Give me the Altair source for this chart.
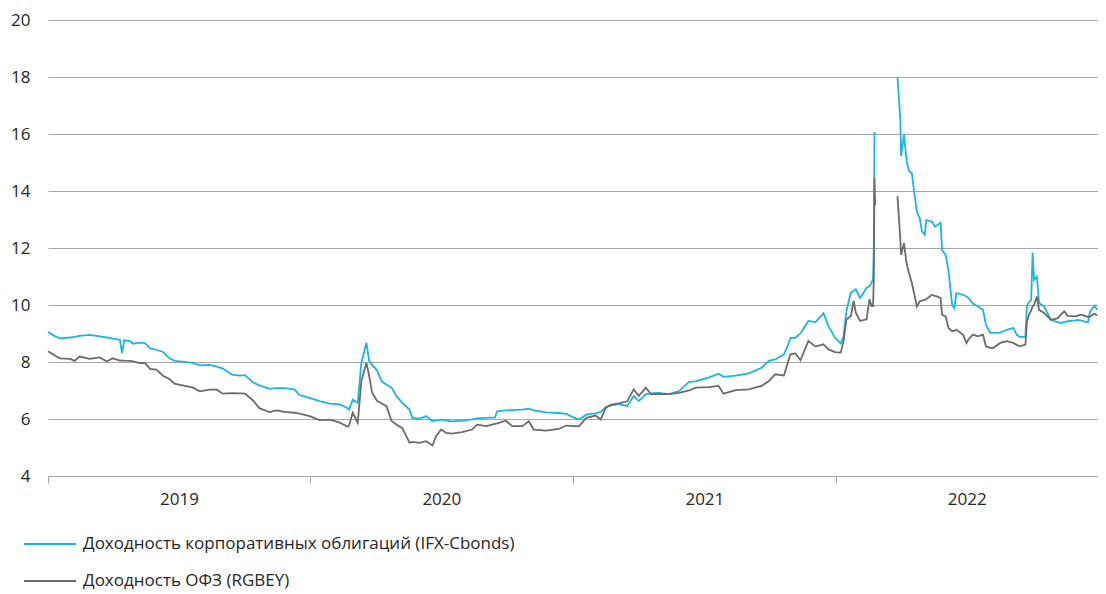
import altair as alt
import pandas as pd

# ---- data ----
dates = [
    "2019-01-01", "2019-01-11", "2019-01-18", "2019-02-01", "2019-02-07", "2019-02-14", "2019-02-28",
    "2019-03-14", "2019-03-24", "2019-04-01", "2019-04-11", "2019-04-14", "2019-04-17", "2019-04-25",
    "2019-04-29", "2019-05-09", "2019-05-16", "2019-05-23", "2019-06-01", "2019-06-10", "2019-06-19",
    "2019-06-26", "2019-07-07", "2019-07-21", "2019-07-31", "2019-08-14", "2019-08-24", "2019-09-01",
    "2019-09-14", "2019-09-25", "2019-10-02", "2019-10-13", "2019-10-22", "2019-11-05", "2019-11-15",
    "2019-11-26", "2019-12-10", "2019-12-17", "2019-12-31", "2020-01-14", "2020-01-28", "2020-02-11",
    "2020-02-22", "2020-02-24", "2020-02-29", "2020-03-07", "2020-03-12", "2020-03-19", "2020-03-23",
    "2020-03-27", "2020-04-03", "2020-04-09", "2020-04-16", "2020-04-23", "2020-04-30", "2020-05-08",
    "2020-05-18", "2020-05-22", "2020-06-01", "2020-06-10", "2020-06-19", "2020-06-24", "2020-07-01",
    "2020-07-08", "2020-07-16", "2020-07-30", "2020-08-13", "2020-08-20", "2020-09-02", "2020-09-14",
    "2020-09-17", "2020-09-29", "2020-10-08", "2020-10-22", "2020-10-31", "2020-11-07", "2020-11-24",
    "2020-12-12", "2020-12-22", "2021-01-02", "2021-01-09", "2021-01-19", "2021-02-01", "2021-02-08",
    "2021-02-15", "2021-02-22", "2021-03-05", "2021-03-17", "2021-03-26", "2021-04-02", "2021-04-12",
    "2021-04-19", "2021-04-30", "2021-05-14", "2021-05-28", "2021-06-11", "2021-06-20", "2021-07-08",
    "2021-07-22", "2021-07-29", "2021-08-15", "2021-09-02", "2021-09-20", "2021-09-30", "2021-10-09",
    "2021-10-21", "2021-10-27", "2021-10-30", "2021-11-06", "2021-11-13", "2021-11-24", "2021-12-04",
    "2021-12-15", "2021-12-22", "2021-12-31", "2022-01-08", "2022-01-12", "2022-01-16", "2022-01-22",
    "2022-01-26", "2022-01-29", "2022-02-04", "2022-02-13", "2022-02-17", "2022-02-20", "2022-02-22",
    "2022-02-23", "2022-02-24", "2022-02-25",
    "2022-03-28", "2022-04-01", "2022-04-02", "2022-04-06", "2022-04-10", "2022-04-13", "2022-04-17",
    "2022-04-20", "2022-04-24", "2022-04-28", "2022-05-01", "2022-05-05", "2022-05-07", "2022-05-15",
    "2022-05-19", "2022-05-22", "2022-05-27", "2022-05-29", "2022-06-03", "2022-06-07", "2022-06-12",
    "2022-06-15", "2022-06-18", "2022-06-27", "2022-07-02", "2022-07-05", "2022-07-11", "2022-07-18",
    "2022-07-25", "2022-07-29", "2022-08-04", "2022-08-08", "2022-08-18", "2022-08-27", "2022-09-05",
    "2022-09-10", "2022-09-14", "2022-09-22", "2022-09-24", "2022-09-27", "2022-09-30", "2022-10-02",
    "2022-10-04", "2022-10-08", "2022-10-11", "2022-10-18", "2022-10-25", "2022-10-27", "2022-11-01",
    "2022-11-06", "2022-11-10", "2022-11-15", "2022-11-20", "2022-11-30", "2022-12-04", "2022-12-09",
    "2022-12-18", "2022-12-21", "2022-12-27", "2022-12-31",
]

corp = [
    9.05, 8.90, 8.83, 8.86, 8.88, 8.92, 8.95,
    8.90, 8.86, 8.82, 8.78, 8.31, 8.76, 8.73,
    8.64, 8.68, 8.66, 8.48, 8.43, 8.35, 8.13,
    8.04, 8.01, 7.97, 7.88, 7.90, 7.84, 7.78,
    7.56, 7.52, 7.54, 7.29, 7.18, 7.06, 7.08,
    7.08, 7.04, 6.84, 6.74, 6.63, 6.54, 6.51,
    6.38, 6.33, 6.68, 6.57, 7.97, 8.67, 8.03,
    7.90, 7.70, 7.33, 7.20, 7.10, 6.80, 6.57,
    6.33, 6.04, 6.01, 6.10, 5.92, 5.95, 5.98,
    5.95, 5.92, 5.94, 5.99, 6.02, 6.04, 6.06,
    6.27, 6.30, 6.31, 6.33, 6.36, 6.30, 6.23,
    6.21, 6.18, 6.05, 5.98, 6.15, 6.20, 6.25,
    6.42, 6.47, 6.52, 6.46, 6.81, 6.63, 6.87,
    6.90, 6.92, 6.87, 6.98, 7.30, 7.32, 7.45,
    7.59, 7.48, 7.52, 7.60, 7.80, 8.04, 8.09,
    8.27, 8.62, 8.85, 8.85, 9.00, 9.44, 9.40,
    9.71, 9.26, 8.85, 8.65, 8.90, 9.80, 10.43,
    10.50, 10.55, 10.25, 10.60, 10.66, 10.80, 10.90,
    11.95, 16.06, 16.00,
    18.00, 16.50, 15.22, 15.98, 15.00, 14.70, 14.62,
    14.00, 13.28, 13.04, 12.58, 12.46, 12.98, 12.93,
    12.75, 12.80, 12.89, 11.93, 11.76, 11.20, 10.01,
    9.89, 10.42, 10.36, 10.30, 10.24, 10.05, 9.95,
    9.83, 9.31, 9.02, 9.02, 9.03, 9.13, 9.19,
    8.96, 8.88, 8.88, 9.95, 10.10, 10.18, 11.84,
    10.88, 11.00, 10.07, 9.95, 9.60, 9.50, 9.43,
    9.40, 9.37, 9.40, 9.43, 9.46, 9.48, 9.45,
    9.39, 9.78, 9.97, 9.83,
]

ofz = [
    8.38, 8.22, 8.13, 8.11, 8.04, 8.19, 8.11,
    8.16, 8.02, 8.13, 8.05, 8.06, 8.05, 8.04,
    8.02, 7.96, 7.96, 7.76, 7.73, 7.52, 7.40,
    7.24, 7.18, 7.11, 6.97, 7.03, 7.03, 6.89,
    6.91, 6.90, 6.89, 6.66, 6.38, 6.24, 6.30,
    6.25, 6.22, 6.19, 6.10, 5.96, 5.98, 5.87,
    5.73, 5.78, 6.22, 5.87, 7.33, 7.97, 7.50,
    6.92, 6.63, 6.55, 6.45, 5.93, 5.80, 5.68,
    5.17, 5.20, 5.16, 5.22, 5.07, 5.40, 5.63,
    5.51, 5.49, 5.54, 5.63, 5.80, 5.75, 5.83,
    5.85, 5.94, 5.75, 5.75, 5.92, 5.63, 5.59,
    5.65, 5.77, 5.75, 5.75, 6.04, 6.12, 5.98,
    6.39, 6.50, 6.55, 6.62, 7.04, 6.81, 7.10,
    6.87, 6.87, 6.87, 6.92, 7.00, 7.10, 7.12,
    7.16, 6.89, 7.01, 7.04, 7.16, 7.33, 7.57,
    7.53, 8.03, 8.27, 8.30, 8.06, 8.74, 8.54,
    8.62, 8.44, 8.35, 8.33, 8.74, 9.50, 9.61,
    10.14, 9.73, 9.44, 9.50, 10.20, 9.96, 9.96,
    10.90, 14.46, 13.50,
    13.82, 12.28, 11.76, 12.17, 11.41, 11.12, 10.77,
    10.42, 9.95, 10.13, 10.15, 10.18, 10.20, 10.36,
    10.32, 10.30, 10.24, 9.66, 9.60, 9.19, 9.08,
    9.10, 9.13, 8.96, 8.67, 8.80, 8.96, 8.90,
    8.96, 8.55, 8.50, 8.49, 8.67, 8.73, 8.67,
    8.60, 8.55, 8.61, 9.40, 9.66, 9.80, 9.95,
    10.00, 10.30, 9.83, 9.72, 9.55, 9.48, 9.50,
    9.54, 9.65, 9.78, 9.62, 9.60, 9.63, 9.66,
    9.58, 9.60, 9.69, 9.64,
]

gap_start = "2022-03-01"  # trading halt: no data between the two segments

series_names = [
    "Доходность корпоративных облигаций (IFX-Cbonds)",
    "Доходность ОФЗ (RGBEY)",
]
series_colors = ["#1AB5E4", "#6B6B6B"]

year_ticks = [2019, 2020, 2021, 2022, 2023]

rows = []
for d, c, g in zip(dates, corp, ofz):
    seg = 0 if d < gap_start else 1
    rows.append({"date": d, "value": c, "series": series_names[0], "seg": seg})
    rows.append({"date": d, "value": g, "series": series_names[1], "seg": seg})
df = pd.DataFrame(rows)

FONT = "Open Sans"

chart = (
    alt.Chart(df)
    .mark_line(strokeWidth=1.8, interpolate="linear")
    .encode(
        x=alt.X(
            "date:T",
            scale=alt.Scale(
                type="utc",
                domain=[
                    alt.DateTime(year=year_ticks[0], month=1, date=1, utc=True),
                    alt.DateTime(year=year_ticks[-1], month=1, date=1, utc=True),
                ],
            ),
            axis=alt.Axis(
                title=None,
                values=[alt.DateTime(year=y, month=1, date=1, utc=True) for y in year_ticks],
                labelExpr="utcyear(datum.value) >= 2023 ? '' : utcFormat(datum.value, '%Y')",
                labelOffset=131,
                labelOverlap=False,
                labelFlush=False,
                labelBound=False,
                grid=False,
                tickSize=7,
                tickColor="#A6A6A6",
                domainColor="#A6A6A6",
                labelPadding=8,
                labelFontSize=17,
            ),
        ),
        y=alt.Y(
            "value:Q",
            scale=alt.Scale(domain=[4, 20], nice=False, zero=False),
            axis=alt.Axis(
                title=None,
                values=[4, 6, 8, 10, 12, 14, 16, 18, 20],
                domain=False,
                ticks=False,
                grid=True,
                gridColor="#A8A8A8",
                gridWidth=1,
                labelPadding=18,
                labelFontSize=17,
            ),
        ),
        color=alt.Color(
            "series:N",
            scale=alt.Scale(domain=series_names, range=series_colors),
            legend=alt.Legend(
                title=None,
                orient="none",
                legendX=-9,
                legendY=513,
                direction="vertical",
                symbolType="M-2.6,0H2.6",
                symbolSize=400,
                symbolStrokeWidth=2,
                labelFontSize=17,
                labelLimit=800,
                labelOffset=22,
                rowPadding=18,
            ),
        ),
        detail="seg:N",
        order="date:T",
    )
    .properties(
        width=1050,
        height=456,
        autosize=alt.AutoSizeParams(type="none"),
        padding={"left": 40, "top": 12, "right": 0, "bottom": 116},
    )
    .configure(font=FONT)
    .configure_axis(labelColor="#262626", labelFont=FONT)
    .configure_legend(labelColor="#262626", labelFont=FONT)
    .configure_view(stroke=None)
)

chart.save("out.html", embed_options={"renderer": "svg", "actions": False})
